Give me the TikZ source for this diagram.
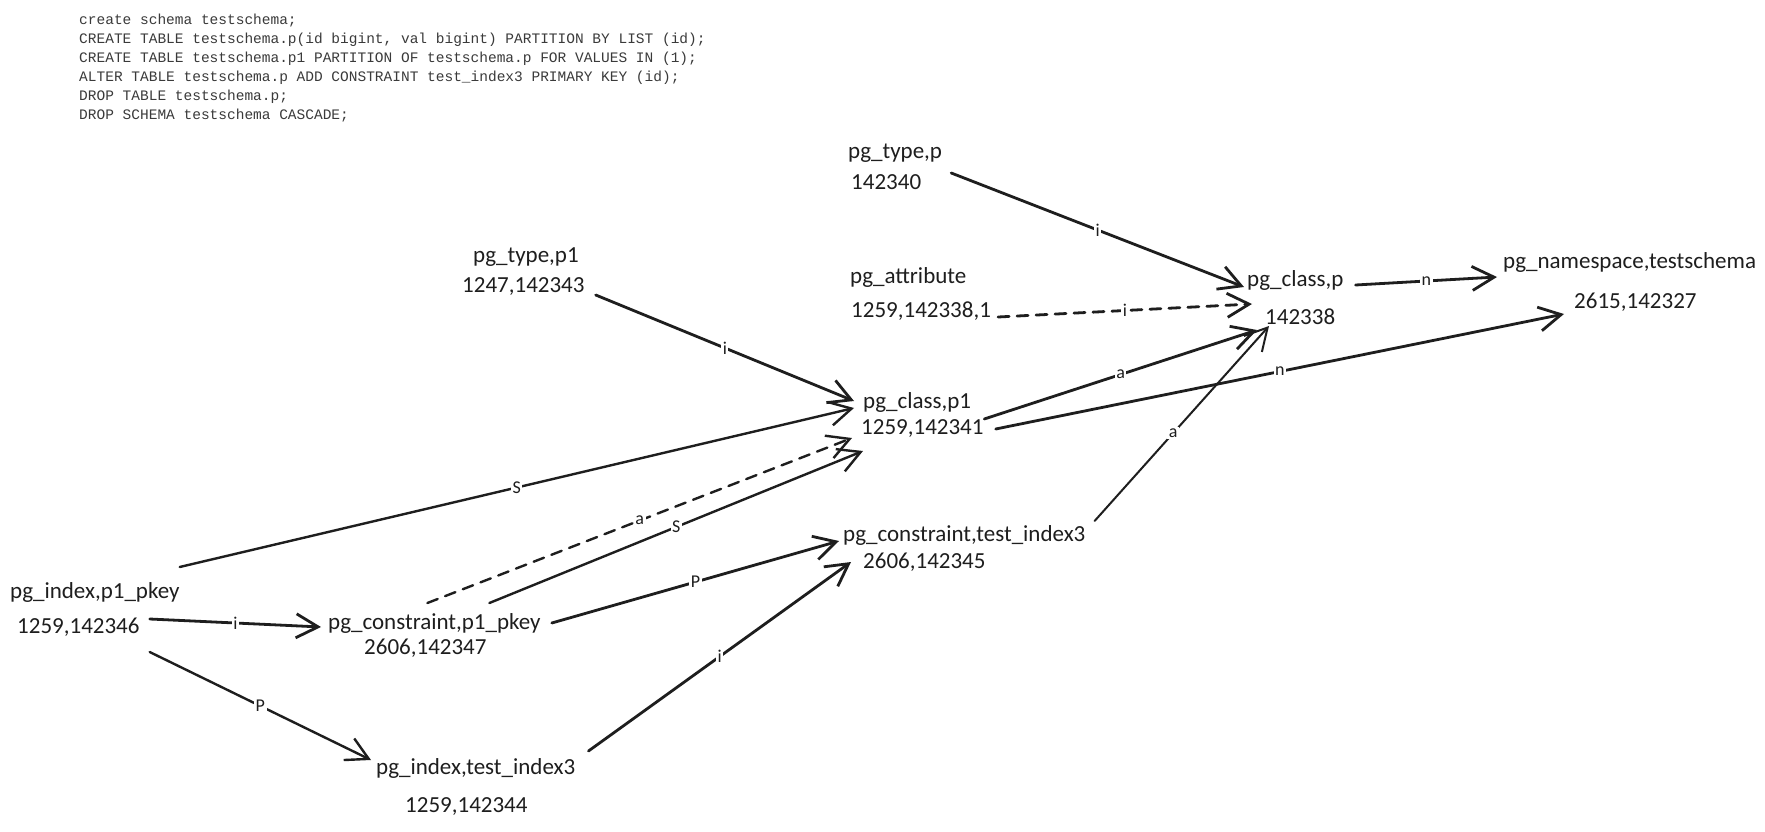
\documentclass[tikz,border=0pt]{standalone}
\usepackage{fontspec}
\setmainfont{Carlito}
\setmonofont{Liberation Mono}
\usetikzlibrary{arrows.meta}
\definecolor{ink}{HTML}{1E1E1E}
\definecolor{codeink}{HTML}{3A3A3A}
\begin{document}
\begin{tikzpicture}[x=1pt,y=-1pt,
  lab/.style={anchor=west,inner sep=0pt,text=ink,font=\fontsize{23}{27}\selectfont},
  code/.style={anchor=west,inner sep=0pt,text=codeink,font=\ttfamily\fontsize{14.5}{19}\selectfont},
  conn/.style={draw=ink,line width=2.8pt,line cap=round,line join=round,
    -{Straight Barb[length=22pt,width=24pt]}},
  midconn/.style={conn,line width=2.4pt},
  thinconn/.style={conn,line width=2pt},
  dashconn/.style={conn,dash pattern=on 11pt off 8pt},
  elab/.style={fill=white,inner sep=1.5pt,text=ink,font=\fontsize{18}{18}\selectfont}]
\useasboundingbox (0,0) rectangle (1765,832);
\fill[white] (0,0) rectangle (1765,832);

% code block
\node[code] (c1) at (79,21) {create schema testschema;};
\node[code] (c2) at (79,40) {CREATE TABLE testschema.p(id bigint, val bigint) PARTITION BY LIST (id);};
\node[code] (c3) at (79,59) {CREATE TABLE testschema.p1 PARTITION OF testschema.p FOR VALUES IN (1);};
\node[code] (c4) at (79,78) {ALTER TABLE testschema.p ADD CONSTRAINT test\_index3 PRIMARY KEY (id);};
\node[code] (c5) at (79,97) {DROP TABLE testschema.p;};
\node[code] (c6) at (79,116) {DROP SCHEMA testschema CASCADE;};

% entity labels
\node[lab] (tp)   at (848,153) {pg\_type,p};
\node[lab] (tpn)  at (851,182) {142340};
\node[lab] (tp1)  at (473,257) {pg\_type,p1};
\node[lab] (tp1n) at (462,287) {1247,142343};
\node[lab] (att)  at (850,277) {pg\_attribute};
\node[lab] (attn) at (851,311) {1259,142338,1};
\node[lab] (cp)   at (1247,280) {pg\_class,p};
\node[lab] (cpn)  at (1265,317) {142338};
\node[lab] (ns)   at (1503,262) {pg\_namespace,testschema};
\node[lab] (nsn)  at (1574,302) {2615,142327};
\node[lab] (cp1)  at (863,402) {pg\_class,p1};
\node[lab] (cp1n) at (861,429) {1259,142341};
\node[lab] (ct)   at (843,535) {pg\_constraint,test\_index3};
\node[lab] (ctn)  at (863,562) {2606,142345};
\node[lab] (ip)   at (10,592) {pg\_index,p1\_pkey};
\node[lab] (ipn)  at (17,627) {1259,142346};
\node[lab] (cpk)  at (328,623) {pg\_constraint,p1\_pkey};
\node[lab] (cpkn) at (364,648) {2606,142347};
\node[lab] (it)   at (376,768) {pg\_index,test\_index3};
\node[lab] (itn)  at (405,807) {1259,142344};

% connectors
\draw[conn] ([shift={(9,20)}]tp.east) -- node[elab]{i} ([shift={(-3,7)}]cp.west);
\draw[dashconn] ([shift={(7,6)}]attn.east) -- node[elab]{i} ([shift={(-13,-13)}]cpn.west);
\draw[conn] ([shift={(12,5)}]cp.east) -- node[elab]{n} ([shift={(-6,15)}]ns.west);
\draw[conn] ([shift={(11,8)}]tp1n.east) -- node[elab]{i} ([shift={(-9,-1)}]cp1.west);
\draw[midconn] ([shift={(0,-25)}]ip.east) -- node[elab]{S} ([shift={(-9,6)}]cp1.west);
\draw[dashconn,line width=2.4pt] ([shift={(-7,-20)}]cpk.center) -- node[elab]{a} ([shift={(-9,9)}]cp1n.west);
\draw[midconn] ([shift={(55,-20)}]cpk.center) -- node[elab]{S} ([shift={(2,22)}]cp1n.west);
\draw[conn] ([shift={(13,17)}]cp1.east) -- node[elab]{a} ([shift={(-8,13)}]cpn.west);
\draw[conn] ([shift={(12,0)}]cp1n.east) -- node[elab]{n} ([shift={(-10,12)}]nsn.west);
\draw[thinconn] ([shift={(9,-14)}]ct.east) -- node[elab,pos=0.45]{a} ([shift={(4,9)}]cpn.west);
\draw[conn] ([shift={(11,0)}]cpk.east) -- node[elab]{P} ([shift={(-4,6)}]ct.west);
\draw[conn] ([shift={(10,-8)}]ipn.east) -- node[elab]{i} ([shift={(-7,4)}]cpk.west);
\draw[midconn] ([shift={(10,25)}]ipn.east) -- node[elab]{P} ([shift={(-5,-8)}]it.west);
\draw[conn] ([shift={(13,-17)}]it.east) -- node[elab]{i} ([shift={(-12,0)}]ctn.west);
\end{tikzpicture}
\end{document}
